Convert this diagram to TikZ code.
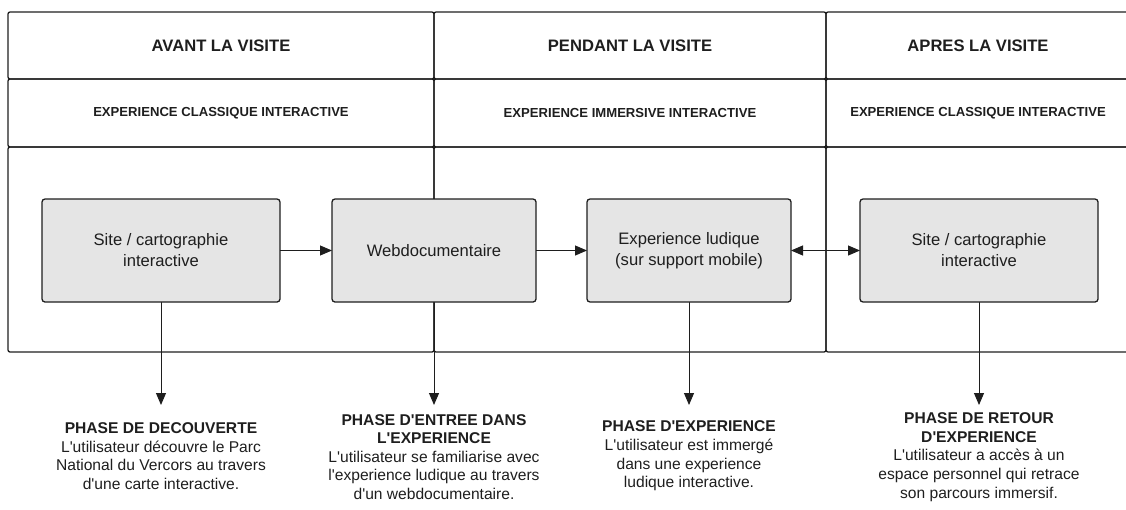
\documentclass[tikz,border=0pt]{standalone}
\usepackage{fontspec}
\setmainfont{Liberation Sans}
\usetikzlibrary{arrows.meta}
\definecolor{boxfill}{RGB}{229,229,229}
\definecolor{edge}{RGB}{30,30,30}
\newcommand{\ap}{\textquotesingle}
\begin{document}
\begin{tikzpicture}[
  x=1pt, y=-1pt,
  line width=1.3pt,
  every node/.style = {inner sep=2pt, outer sep=0pt, align=center, text=edge},
  cell/.style = {shape=rectangle, rounded corners=2pt, draw=edge},
  title/.style = {font=\fontsize{16.6}{19}\selectfont\bfseries},
  subtitle/.style = {font=\fontsize{13.1}{15}\selectfont\bfseries},
  stage/.style = {shape=rectangle, rounded corners=3pt, draw=edge, fill=boxfill,
    minimum height=103pt, font=\fontsize{16.6}{21}\selectfont},
  phase/.style = {font=\fontsize{15.6}{18.6}\selectfont},
  link/.style = {draw=edge, line width=1pt, -{Triangle[length=12pt,width=10pt]}}
]
  \useasboundingbox (0,0) rectangle (1126,509);
  \clip (0,0) rectangle (1126,509);

  % columns
  \node[cell, title, minimum width=426pt, minimum height=67pt] (avant) at (221,45.5) {AVANT LA VISITE};
  \node[cell, subtitle, minimum width=426pt, minimum height=68pt] (avantsub) at (221,113) {EXPERIENCE CLASSIQUE INTERACTIVE};
  \node[cell, minimum width=426pt, minimum height=205pt] (avantbody) at (221,249.5) {};

  \node[cell, title, minimum width=392pt, minimum height=67pt] (pendant) at (630,45.5) {PENDANT LA VISITE};
  \node[cell, subtitle, minimum width=392pt, minimum height=68pt] (pendantsub) at (630,113) {EXPERIENCE IMMERSIVE INTERACTIVE};
  \node[cell, minimum width=392pt, minimum height=205pt] (pendantbody) at (630,249.5) {};

  \node[cell, title, minimum width=304pt, minimum height=67pt] (apres) at (978,45.5) {APRES LA VISITE};
  \node[cell, subtitle, minimum width=304pt, minimum height=68pt] (apressub) at (978,113) {EXPERIENCE CLASSIQUE INTERACTIVE};
  \node[cell, minimum width=304pt, minimum height=205pt] (apresbody) at (978,249.5) {};

  % arrows down to the phases
  \coordinate (tipsite) at (161,405);
  \coordinate (tipweb) at (434,405);
  \coordinate (tipludique) at (689,405);
  \coordinate (tipretour) at (979,405);
  \draw[link] (161,302) -- (tipsite);
  \draw[link] (434,302) -- (tipweb);
  \draw[link] (689,302) -- (tipludique);
  \draw[link] (979,302) -- (tipretour);

  % stages
  \node[stage, minimum width=238pt] (site) at (161,250.5) {Site / cartographie\\interactive};
  \node[stage, minimum width=204pt] (webdoc) at (434,250.5) {Webdocumentaire};
  \node[stage, minimum width=204pt] (ludique) at (689,250.5) {Experience ludique\\(sur support mobile)};
  \node[stage, minimum width=238pt] (site2) at (979,250.5) {Site / cartographie\\interactive};

  \draw[link] (site) -- (webdoc);
  \draw[link] (webdoc) -- (ludique);
  \draw[link, {Triangle[length=12pt,width=10pt]}-{Triangle[length=12pt,width=10pt]}] (ludique) -- (site2);

  % phases
  \node[phase] (decouverte) at (161,456) {\textbf{PHASE DE DECOUVERTE}\\L\ap utilisateur découvre le Parc\\National du Vercors au travers\\d\ap une carte interactive.};
  \node[phase] (entree) at (434,457) {\textbf{PHASE D\ap ENTREE DANS}\\\textbf{L\ap EXPERIENCE}\\L\ap utilisateur se familiarise avec\\l\ap experience ludique au travers\\d\ap un webdocumentaire.};
  \node[phase] (experience) at (689,456) {\textbf{PHASE D\ap EXPERIENCE}\\L\ap utilisateur est immergé\\dans une experience\\ludique interactive.};
  \node[phase] (retour) at (979,457) {\textbf{PHASE DE RETOUR}\\\textbf{D\ap EXPERIENCE}\\L\ap utilisateur a accès à un\\espace personnel qui retrace\\son parcours immersif.};
\end{tikzpicture}
\end{document}
